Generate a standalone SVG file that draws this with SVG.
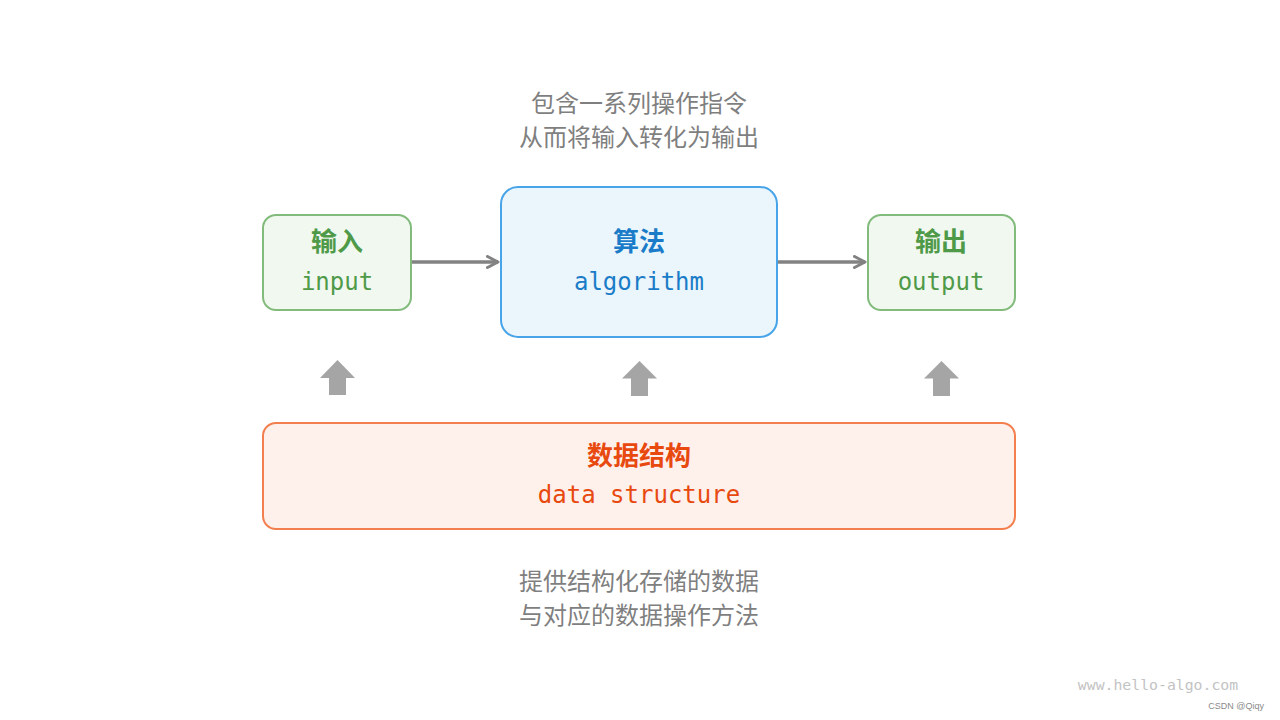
<svg xmlns="http://www.w3.org/2000/svg" width="1280" height="720" viewBox="0 0 1280 720">
<defs>
<style>
.cap{font-family:"Noto Sans CJK SC","Noto Sans",sans-serif;font-size:24px;fill:#7f7f7f;text-anchor:middle}
.ttl{font-family:"Noto Sans CJK SC","Noto Sans",sans-serif;font-size:26px;font-weight:bold;text-anchor:middle}
.mono{font-family:"DejaVu Sans Mono","Liberation Mono",monospace;font-size:24px;text-anchor:middle}
.green{fill:#4f9a48}
.blue{fill:#1a7cc8}
.orange{fill:#e8490f}
.io{fill:#f1f8f0;stroke:#82bb7b;stroke-width:2}
.conn{stroke:#828282;stroke-width:3.5;fill:none}
.up{fill:#a5a5a5}
</style>
<marker id="ah" viewBox="0 0 14 14" refX="12" refY="7" markerWidth="14" markerHeight="14" markerUnits="userSpaceOnUse" orient="auto">
<path d="M1.5,1.5 L12,7 L1.5,12.5" fill="none" stroke="#828282" stroke-width="3" stroke-linecap="round" stroke-linejoin="round"/>
</marker>
</defs>
<rect width="1280" height="720" fill="#ffffff"/>
<g id="caption-top">
<text class="cap" x="639" y="112">包含一系列操作指令</text>
<text class="cap" x="639" y="146">从而将输入转化为输出</text>
</g>
<g id="connectors">
<line class="conn" x1="411" y1="262" x2="498" y2="262" marker-end="url(#ah)"/>
<line class="conn" x1="777" y1="262" x2="865" y2="262" marker-end="url(#ah)"/>
<path class="up" d="M337.5,360 L355,378 L346,378 L346,395 L329,395 L329,378 L320,378 Z"/>
<path class="up" d="M639.5,361 L657,378.5 L648,378.5 L648,396 L631,396 L631,378.5 L622,378.5 Z"/>
<path class="up" d="M941.5,361 L959,378.5 L950,378.5 L950,396 L933,396 L933,378.5 L924,378.5 Z"/>
</g>
<g id="input">
<rect class="io" x="263" y="215" width="148" height="95" rx="13"/>
<text class="ttl green" x="337" y="251">输入</text>
<text class="mono green" x="337" y="290">input</text>
</g>
<g id="algorithm">
<rect x="501" y="187" width="276" height="150" rx="17" fill="#eaf5fc" stroke="#48a4e8" stroke-width="2"/>
<text class="ttl blue" x="639" y="251">算法</text>
<text class="mono blue" x="639" y="290">algorithm</text>
</g>
<g id="output">
<rect class="io" x="868" y="215" width="147" height="95" rx="13"/>
<text class="ttl green" x="941" y="251">输出</text>
<text class="mono green" x="941" y="290">output</text>
</g>
<g id="data-structure">
<rect x="263" y="423" width="752" height="106" rx="13" fill="#fef0eb" stroke="#f37f4f" stroke-width="2"/>
<text class="ttl orange" x="639" y="465">数据结构</text>
<text class="mono orange" x="639" y="503">data structure</text>
</g>
<g id="caption-bottom">
<text class="cap" x="639" y="590">提供结构化存储的数据</text>
<text class="cap" x="639" y="624">与对应的数据操作方法</text>
</g>
<g id="watermark">
<text x="1158" y="690" font-family="DejaVu Sans Mono,monospace" font-size="14.8" fill="#c3c3c3" text-anchor="middle">www.hello-algo.com</text>
<text x="1264" y="709" font-family="Liberation Sans,sans-serif" font-size="9" fill="#8a8a8a" text-anchor="end">CSDN @Qiqy</text>
</g>
</svg>
